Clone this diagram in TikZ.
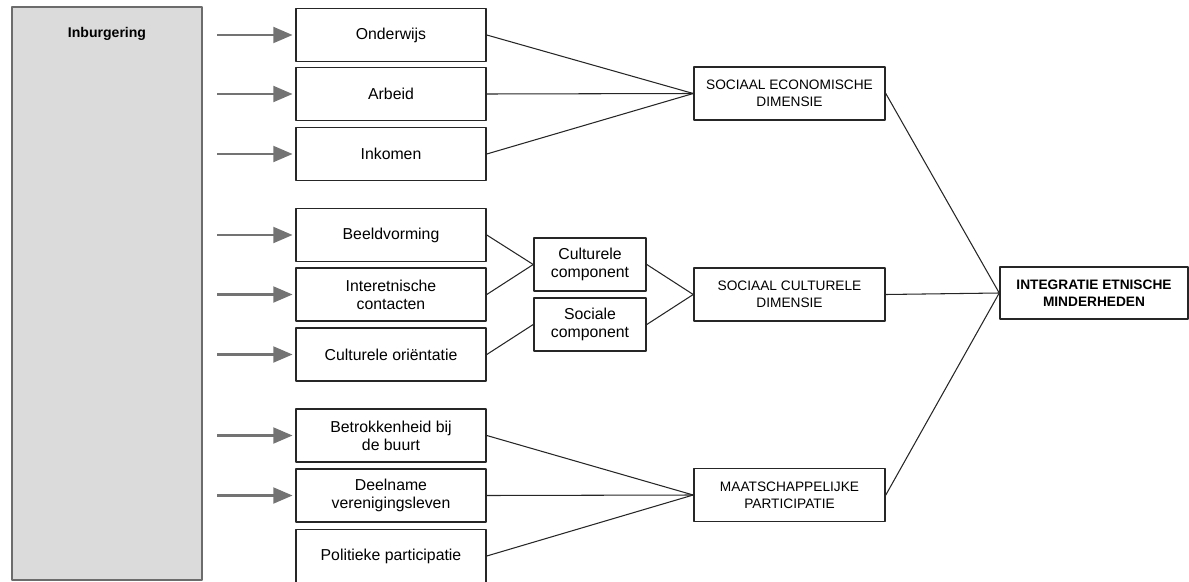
\documentclass[tikz,border=0pt]{standalone}
\usepackage{fontspec}
\setmainfont{Liberation Sans}
\usetikzlibrary{arrows.meta, positioning}

\begin{document}
\begin{tikzpicture}[x=0.02cm, y=-0.02cm, >={Triangle[length=11pt, width=9pt]}, line join=round]
	
	%======================
	% STYLES
	%======================
	\tikzset{
		mainbox/.style={draw=gray!85!black, line width=1.2pt, fill=black!14, minimum width=3.8cm, minimum height=11.46cm, inner sep=0pt},
		factor/.style={draw=black!85, line width=0.9pt, fill=white, minimum width=3.8cm, minimum height=1.06cm, inner sep=0pt, align=center, font=\fontsize{9}{10.2}\selectfont},
		comp/.style={factor, minimum width=2.24cm},
		dimbox/.style={factor, minimum width=3.82cm, font=\fontsize{7.8}{9.7}\selectfont},
		endbox/.style={factor, minimum width=3.76cm, minimum height=1.04cm, font=\fontsize{7.8}{9.7}\selectfont\bfseries},
		inflow/.style={->, draw=black!55, line width=1.5pt, shorten >=1.5pt},
		link/.style={draw=black!85, line width=0.6pt}
	}
	
	\useasboundingbox (0,0) rectangle (1189,581);
	
	%======================
	% LEFT: Inburgering
	%======================
	\node[mainbox] (inb) at (107,293.5) {};
	\node[font=\fontsize{8}{9.6}\selectfont\bfseries] (inblabel) at (107,34) {Inburgering};
	\coordinate (src) at (217,0);
	
	%======================
	% FACTORS
	%======================
	\node[factor] (onderwijs) at (391,35) {Onderwijs};
	\node[factor] (arbeid) at (391,94) {Arbeid};
	\node[factor] (inkomen) at (391,154) {Inkomen};
	
	\node[factor] (beeld) at (391,235) {Beeldvorming};
	\node[factor] (contact) at (391,294.5) {Interetnische\\contacten};
	\node[factor] (orient) at (391,354.5) {Culturele oriëntatie};
	
	\node[factor] (buurt) at (391,435.5) {Betrokkenheid bij\\de buurt};
	\node[factor] (vereniging) at (391,495.5) {Deelname\\verenigingsleven};
	\node[factor] (politiek) at (391,556) {Politieke participatie};
	
	% arrows from Inburgering (none into Politieke participatie)
	\foreach \n in {onderwijs,arbeid,inkomen,beeld,contact,orient,buurt,vereniging}
		\draw[inflow] (src |- \n.west) -- (\n.west);
	
	%======================
	% COMPONENTS
	%======================
	\node[comp] (culcomp) at (590,264.5) {Culturele\\component};
	\node[comp] (soccomp) at (590,324.5) {Sociale\\component};
	
	%======================
	% DIMENSIONS
	%======================
	\node[dimbox] (sedim) at (789.5,93.5) {SOCIAAL ECONOMISCHE\\DIMENSIE};
	\node[dimbox] (scdim) at (789.5,294.5) {SOCIAAL CULTURELE\\DIMENSIE};
	\node[dimbox] (mpdim) at (789.5,495) {MAATSCHAPPELIJKE\\PARTICIPATIE};
	
	\node[endbox] (integratie) at (1094,293) {INTEGRATIE ETNISCHE\\MINDERHEDEN};
	
	%======================
	% CONNECTIONS
	%======================
	\draw[link] (onderwijs.east) -- (sedim.west);
	\draw[link] (arbeid.east) -- (sedim.west);
	\draw[link] (inkomen.east) -- (sedim.west);
	
	\draw[link] (beeld.east) -- (culcomp.west);
	\draw[link] (contact.east) -- (culcomp.west);
	\draw[link] (orient.east) -- (soccomp.west);
	\draw[link] (culcomp.east) -- (scdim.west);
	\draw[link] (soccomp.east) -- (scdim.west);
	
	\draw[link] (buurt.east) -- (mpdim.west);
	\draw[link] (vereniging.east) -- (mpdim.west);
	\draw[link] (politiek.east) -- (mpdim.west);
	
	\draw[link] (sedim.east) -- (integratie.west);
	\draw[link] (scdim.east) -- (integratie.west);
	\draw[link] (mpdim.east) -- (integratie.west);
\end{tikzpicture}
\end{document}
